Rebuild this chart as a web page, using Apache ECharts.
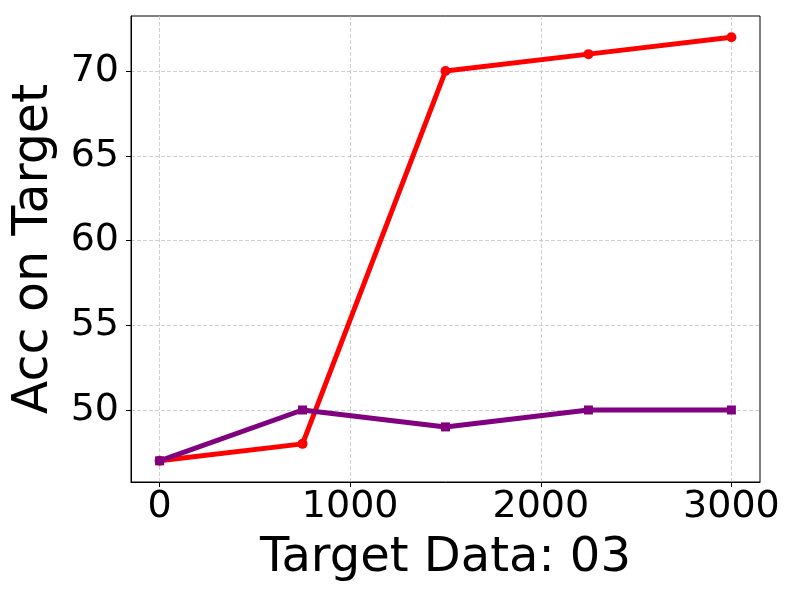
<!DOCTYPE html>
<html><head><meta charset="utf-8">
<script src="https://cdn.jsdelivr.net/npm/echarts@6/dist/echarts.min.js"></script>
<style>html,body{margin:0;padding:0;background:#fff}#c{width:800px;height:600px}</style>
</head><body><div id="c"></div>
<script>
const xValues = [0, 750, 1500, 2250, 3000];
const redValues = [47, 48, 70, 71, 72];
const purpleValues = [47, 50, 49, 50, 50];
const xTicks = [0, 1000, 2000, 3000];
const yTicks = [50, 55, 60, 65, 70];
const xTitle = 'Target Data: 03';
const yTitle = 'Acc on Target';

const font = 'DejaVu Sans';
const chart = echarts.init(document.getElementById('c'), null, {renderer: 'canvas'});
const gridLine = {show: true, lineStyle: {color: '#c4c4c4', type: [4, 2], width: 0.8}};
chart.setOption({
  animation: false,
  grid: {left: 131, right: 40, top: 16, bottom: 118, show: true, borderColor: '#000', borderWidth: 1, backgroundColor: 'transparent'},
  xAxis: {
    type: 'value', min: -150, max: 3150,
    name: xTitle, nameLocation: 'middle', nameGap: 53,
    nameTextStyle: {fontFamily: font, fontSize: 48, color: '#000'},
    axisLine: {show: true, onZero: false, lineStyle: {color: '#000', width: 1}},
    axisTick: {show: true, length: 5, inside: false, customValues: xTicks, lineStyle: {color: '#000'}},
    axisLabel: {customValues: xTicks, formatter: v => String(v), fontFamily: font, fontSize: 38, color: '#000', margin: 6},
    splitLine: gridLine
  },
  yAxis: {
    type: 'value', min: 45.75, max: 73.25,
    name: yTitle, nameLocation: 'middle', nameGap: 72,
    nameTextStyle: {fontFamily: font, fontSize: 49, color: '#000'},
    axisLine: {show: true, onZero: false, lineStyle: {color: '#000', width: 1}},
    axisTick: {show: true, length: 5, customValues: yTicks, lineStyle: {color: '#000'}},
    axisLabel: {customValues: yTicks, formatter: v => String(v), fontFamily: font, fontSize: 38, color: '#000', margin: 12},
    splitLine: gridLine
  },
  series: [
    {
      type: 'line', data: xValues.map((x, i) => [x, redValues[i]]),
      lineStyle: {color: '#ff0000', width: 5}, itemStyle: {color: '#ff0000'},
      symbol: 'circle', symbolSize: 10, z: 2
    },
    {
      type: 'line', data: xValues.map((x, i) => [x, purpleValues[i]]),
      lineStyle: {color: '#800080', width: 5}, itemStyle: {color: '#800080'},
      symbol: 'rect', symbolSize: 9, z: 3
    }
  ]
});
</script></body></html>
